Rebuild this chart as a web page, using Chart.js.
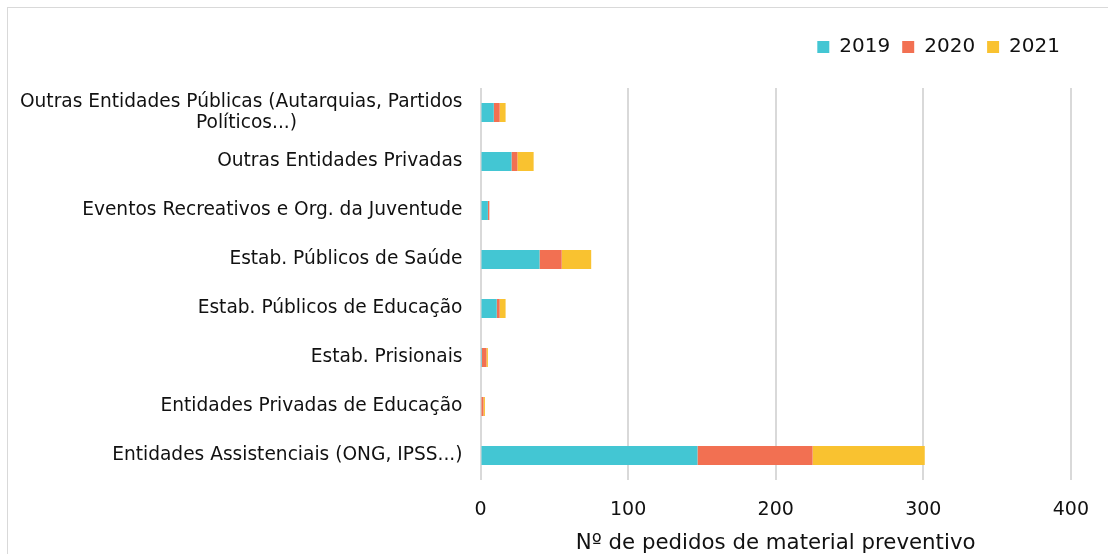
<!DOCTYPE html>
<html>
<head>
<meta charset="utf-8">
<script src="https://cdn.jsdelivr.net/npm/chart.js@4/dist/chart.umd.min.js"></script>
<style>
  html, body { margin: 0; padding: 0; background: #fff; overflow: hidden; }
  #wrap { position: relative; width: 1108px; height: 554px; }
  #frame { position: absolute; left: 7px; top: 7px; width: 1200px; height: 600px;
           border: 1px solid #d9d9d9; box-sizing: border-box; }
  #c { position: absolute; left: 0; top: 0; }
</style>
</head>
<body>
<div id="wrap">
  <div id="frame"></div>
  <canvas id="c" width="1108" height="554"></canvas>
</div>
<script>
// Categories, listed top to bottom
const categories = [
  'Outras Entidades Públicas (Autarquias, Partidos|Políticos...)',
  'Outras Entidades Privadas',
  'Eventos Recreativos e Org. da Juventude',
  'Estab. Públicos de Saúde',
  'Estab. Públicos de Educação',
  'Estab. Prisionais',
  'Entidades Privadas de Educação',
  'Entidades Assistenciais (ONG, IPSS...)'
];
const years = ['2019', '2020', '2021'];
const values2019 = [9, 21, 5, 40, 11, 1, 0, 147];
const values2020 = [4, 4, 1, 15, 2, 3, 2, 78];
const values2021 = [4, 11, 0, 20, 4, 1, 1, 76];
const xTicks = [0, 100, 200, 300, 400];
const xTitle = 'Nº de pedidos de material preventivo';

const colors = ['#43c6d3', '#f27052', '#f9c230'];
const FONT = "'DejaVu Sans', Verdana, sans-serif";
const labelSize = 18.6;

// Wrapped labels: second line centred under the first, the block right-aligned
const measureCtx = document.createElement('canvas').getContext('2d');
measureCtx.font = labelSize + 'px ' + FONT;
function wrapLabel(text) {
  const parts = text.split('|');
  if (parts.length < 2) return text;
  const w1 = measureCtx.measureText(parts[0]).width;
  const w2 = measureCtx.measureText(parts[1]).width;
  const target = (w1 + w2) / 2;
  let line2 = parts[1];
  while (measureCtx.measureText(line2 + ' ').width <= target) line2 += ' ';
  return [parts[0], line2];
}

// Extra room between the legend and the plot
const legendGap = {
  id: 'legendGap',
  beforeInit(chart) {
    const fit = chart.legend.fit;
    chart.legend.fit = function () { fit.call(this); this.height += 21; };
  }
};

Chart.defaults.font.family = FONT;
Chart.defaults.color = '#111';

new Chart(document.getElementById('c'), {
  type: 'bar',
  data: {
    labels: categories.map(wrapLabel),
    datasets: [values2019, values2020, values2021].map((vals, i) => ({
      label: years[i],
      data: vals,
      backgroundColor: colors[i],
      borderWidth: 0,
      barPercentage: 0.49,
      categoryPercentage: 0.8
    }))
  },
  options: {
    indexAxis: 'y',
    responsive: false,
    animation: false,
    layout: { padding: { left: 8, right: 36, top: 25, bottom: 0 } },
    plugins: {
      legend: {
        position: 'top',
        align: 'end',
        labels: { font: { size: 20 }, boxWidth: 12, boxHeight: 12, padding: 12, color: '#111' }
      },
      tooltip: { enabled: false }
    },
    scales: {
      x: {
        stacked: true,
        min: 0,
        max: 400,
        afterBuildTicks: s => { s.ticks = xTicks.map(v => ({ value: v })); },
        grid: { color: '#d9d9d9', lineWidth: 2, drawTicks: false },
        border: { display: false },
        ticks: { font: { size: 19 }, padding: 19, color: '#111' },
        title: { display: true, text: xTitle, font: { size: 21.3, lineHeight: 1.0 }, color: '#111', padding: { top: 0, bottom: 0 } },
        afterFit: s => { s.height = 74; }
      },
      y: {
        stacked: true,
        grid: { display: false },
        border: { display: false },
        ticks: { font: { size: labelSize, lineHeight: 1.15 }, padding: 10, color: '#111', autoSkip: false },
        afterFit: s => { s.width = 472.5; }
      }
    }
  },
  plugins: [legendGap]
});
</script>
</body>
</html>
